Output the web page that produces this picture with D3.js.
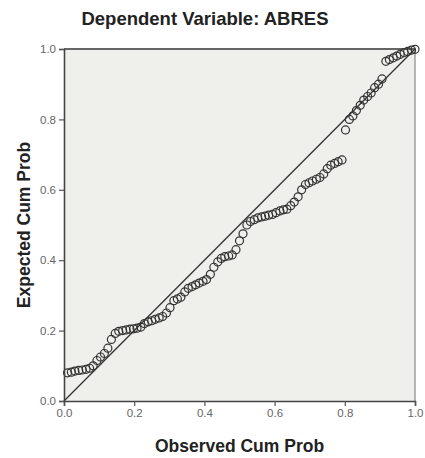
<!DOCTYPE html>
<html>
<head>
<meta charset="utf-8">
<script src="https://cdn.jsdelivr.net/npm/d3@7/dist/d3.min.js"></script>
<style>
  html, body { margin: 0; padding: 0; background: #ffffff; }
  svg { display: block; }
</style>
</head>
<body>
<svg id="chart" width="425" height="458"></svg>
<script>
// ---- data ----
const titleText = "Dependent Variable: ABRES";
const xLabel = "Observed Cum Prob";
const yLabel = "Expected Cum Prob";
const tickValues = [0.0, 0.2, 0.4, 0.6, 0.8, 1.0];

const observed = [
  0.010, 0.021, 0.031, 0.042, 0.052, 0.063, 0.073, 0.083, 0.094, 0.104,
  0.115, 0.125, 0.135, 0.146, 0.156, 0.167, 0.177, 0.188, 0.198, 0.208,
  0.219, 0.229, 0.240, 0.250, 0.260, 0.271, 0.281, 0.292, 0.302, 0.313,
  0.323, 0.333, 0.344, 0.354, 0.365, 0.375, 0.385, 0.396, 0.406, 0.417,
  0.427, 0.438, 0.448, 0.458, 0.469, 0.479, 0.490, 0.500, 0.510, 0.521,
  0.531, 0.542, 0.552, 0.563, 0.573, 0.583, 0.594, 0.604, 0.615, 0.625,
  0.635, 0.646, 0.656, 0.667, 0.677, 0.688, 0.698, 0.708, 0.719, 0.729,
  0.740, 0.750, 0.760, 0.771, 0.781, 0.792, 0.802, 0.813, 0.823, 0.833,
  0.844, 0.854, 0.865, 0.875, 0.885, 0.896, 0.906, 0.917, 0.927, 0.938,
  0.948, 0.958, 0.969, 0.979, 0.990, 1.000
];
const expected = [
  0.080, 0.082, 0.085, 0.087, 0.088, 0.090, 0.093, 0.100, 0.115, 0.125,
  0.135, 0.150, 0.175, 0.192, 0.198, 0.200, 0.202, 0.204, 0.205, 0.207,
  0.210, 0.220, 0.225, 0.228, 0.232, 0.236, 0.240, 0.250, 0.265, 0.285,
  0.290, 0.295, 0.310, 0.320, 0.325, 0.330, 0.335, 0.340, 0.345, 0.360,
  0.380, 0.395, 0.405, 0.410, 0.412, 0.415, 0.430, 0.455, 0.475, 0.500,
  0.510, 0.515, 0.520, 0.523, 0.525, 0.528, 0.530, 0.535, 0.540, 0.543,
  0.545, 0.555, 0.565, 0.580, 0.600, 0.615, 0.620, 0.625, 0.630, 0.635,
  0.645, 0.660, 0.670, 0.675, 0.680, 0.685, 0.770, 0.800, 0.810, 0.825,
  0.840, 0.855, 0.865, 0.875, 0.890, 0.900, 0.915, 0.965, 0.970, 0.975,
  0.980, 0.985, 0.990, 0.993, 0.997, 0.999
];

// ---- layout ----
const svg = d3.select("#chart");
const plot = { left: 64, right: 415, top: 49, bottom: 401 };

const x = d3.scaleLinear().domain([0, 1]).range([plot.left, plot.right]);
const y = d3.scaleLinear().domain([0, 1]).range([plot.bottom, plot.top]);

// plot background
svg.append("rect")
  .attr("x", plot.left).attr("y", plot.top)
  .attr("width", plot.right - plot.left).attr("height", plot.bottom - plot.top)
  .attr("fill", "#efefeb");

// frame top & right
svg.append("line")
  .attr("x1", plot.left).attr("x2", plot.right)
  .attr("y1", plot.top).attr("y2", plot.top)
  .attr("stroke", "#666").attr("stroke-width", 2);
svg.append("line")
  .attr("x1", plot.right).attr("x2", plot.right)
  .attr("y1", plot.top).attr("y2", plot.bottom)
  .attr("stroke", "#888").attr("stroke-width", 1.2);

// reference diagonal
svg.append("line")
  .attr("x1", x(0)).attr("y1", y(0))
  .attr("x2", x(1)).attr("y2", y(1))
  .attr("stroke", "#333").attr("stroke-width", 1.3);

// points
const pts = observed.map((v, i) => ({ o: v, e: expected[i] }));
svg.append("g")
  .selectAll("circle")
  .data(pts)
  .join("circle")
  .attr("cx", d => x(d.o))
  .attr("cy", d => y(d.e))
  .attr("r", 4)
  .attr("fill", "none")
  .attr("stroke", "#333")
  .attr("stroke-width", 1.2);

// axes
const fmt = d3.format(".1f");
const xAxis = svg.append("g")
  .attr("transform", `translate(0,${plot.bottom})`)
  .call(d3.axisBottom(x).tickValues(tickValues).tickFormat(fmt).tickSize(5).tickPadding(3));
const yAxis = svg.append("g")
  .attr("transform", `translate(${plot.left},0)`)
  .call(d3.axisLeft(y).tickValues(tickValues).tickFormat(fmt).tickSize(5).tickPadding(3));

[xAxis, yAxis].forEach(g => {
  g.select(".domain").attr("stroke", "#444").attr("stroke-width", 1.6);
  g.selectAll(".tick line").attr("stroke", "#555").attr("stroke-width", 1.2);
  g.selectAll(".tick text")
    .attr("fill", "#666")
    .style("font-family", "'Liberation Sans', Arial, sans-serif")
    .style("font-size", "11.5px");
});

// title
svg.append("text")
  .attr("x", 205).attr("y", 25)
  .attr("text-anchor", "middle")
  .style("font-family", "'Liberation Sans', Arial, sans-serif")
  .style("font-size", "18.5px")
  .style("font-weight", "bold")
  .attr("fill", "#222")
  .text(titleText);

// x label
svg.append("text")
  .attr("x", (plot.left + plot.right) / 2).attr("y", 452)
  .attr("text-anchor", "middle")
  .style("font-family", "'Liberation Sans', Arial, sans-serif")
  .style("font-size", "17.5px")
  .style("font-weight", "bold")
  .attr("fill", "#222")
  .text(xLabel);

// y label
svg.append("text")
  .attr("transform", `translate(30,${(plot.top + plot.bottom) / 2}) rotate(-90)`)
  .attr("text-anchor", "middle")
  .style("font-family", "'Liberation Sans', Arial, sans-serif")
  .style("font-size", "17.5px")
  .style("font-weight", "bold")
  .attr("fill", "#222")
  .text(yLabel);
</script>
</body>
</html>
